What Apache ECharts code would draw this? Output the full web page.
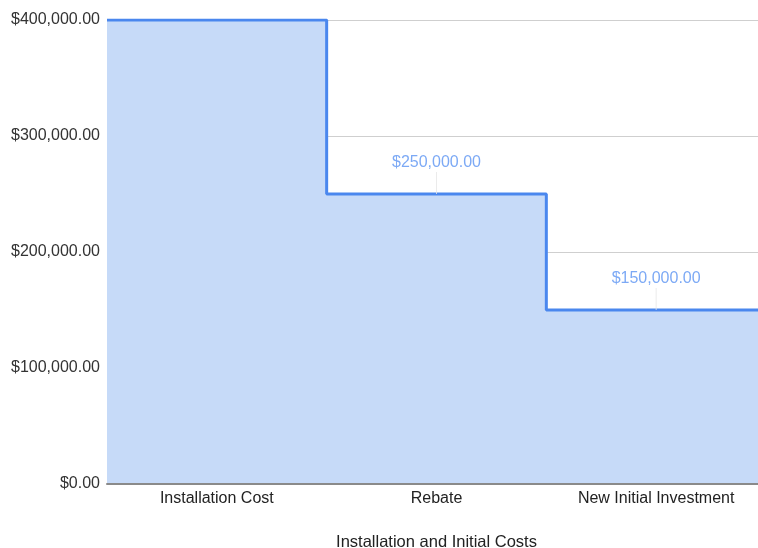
<!DOCTYPE html>
<html>
<head>
<meta charset="utf-8">
<script src="https://cdn.jsdelivr.net/npm/echarts@6/dist/echarts.min.js"></script>
<style>html,body{margin:0;padding:0;background:#fff}#c{width:758px;height:548px}</style>
</head>
<body>
<div id="c"></div>
<script>
var categories = ['Installation Cost', 'Rebate', 'New Initial Investment'];
var values = [400000, 250000, 150000];
var yTicks = [0, 100000, 200000, 300000, 400000];
var xAxisTitle = 'Installation and Initial Costs';

function money(v) {
  return '$' + Number(v).toLocaleString('en-US', {minimumFractionDigits: 2, maximumFractionDigits: 2});
}
var yMax = yTicks[yTicks.length - 1];
var stepData = values.map(function (v, i) { return [i, v]; });
stepData.push([values.length, values[values.length - 1]]);
var labelData = [];
values.forEach(function (v, i) { if (v < yMax) labelData.push([i + 0.5, v]); });

var chart = echarts.init(document.getElementById('c'));
chart.setOption({
  animation: false,
  grid: {left: 107, width: 659, top: 20, height: 464, containLabel: false, outerBoundsMode: 'none'},
  xAxis: [{
    type: 'category', data: categories, boundaryGap: true,
    axisTick: {show: false},
    axisLine: {show: true, lineStyle: {color: '#8a8a8a', width: 2}},
    axisLabel: {color: '#222', fontFamily: 'Liberation Sans, Arial', fontSize: 16, margin: 7},
    name: xAxisTitle, nameLocation: 'middle', nameGap: 50,
    nameTextStyle: {color: '#222', fontFamily: 'Liberation Sans, Arial', fontSize: 16.5},
    z: 5
  }, {
    type: 'value', min: 0, max: values.length, show: false
  }],
  yAxis: {
    type: 'value', min: yTicks[0], max: yMax, interval: yTicks[1] - yTicks[0],
    axisLine: {show: false}, axisTick: {show: false},
    splitLine: {lineStyle: {color: '#cfcfcf', width: 1}},
    axisLabel: {color: '#333', fontFamily: 'Liberation Sans, Arial', fontSize: 16, margin: 7, formatter: money}
  },
  series: [{
    type: 'line', xAxisIndex: 1, data: stepData, step: 'end',
    symbol: 'none', clip: true,
    lineStyle: {color: '#4a87ee', width: 3},
    areaStyle: {color: '#c6daf8', opacity: 1},
    z: 2
  }, {
    type: 'scatter', xAxisIndex: 1, data: labelData,
    symbol: 'rect', symbolSize: [1, 22], symbolOffset: [0, -11],
    itemStyle: {color: '#e6e6e6'}, silent: true, z: 3
  }, {
    type: 'scatter', xAxisIndex: 1, data: labelData,
    symbol: 'circle', symbolSize: 0, silent: true, z: 4,
    label: {show: true, position: 'top', distance: 23, color: '#5b93f2',
      fontFamily: 'Liberation Sans, Arial', fontSize: 16,
      formatter: function (p) { return money(p.value[1]); }}
  }]
});
</script>
</body>
</html>
